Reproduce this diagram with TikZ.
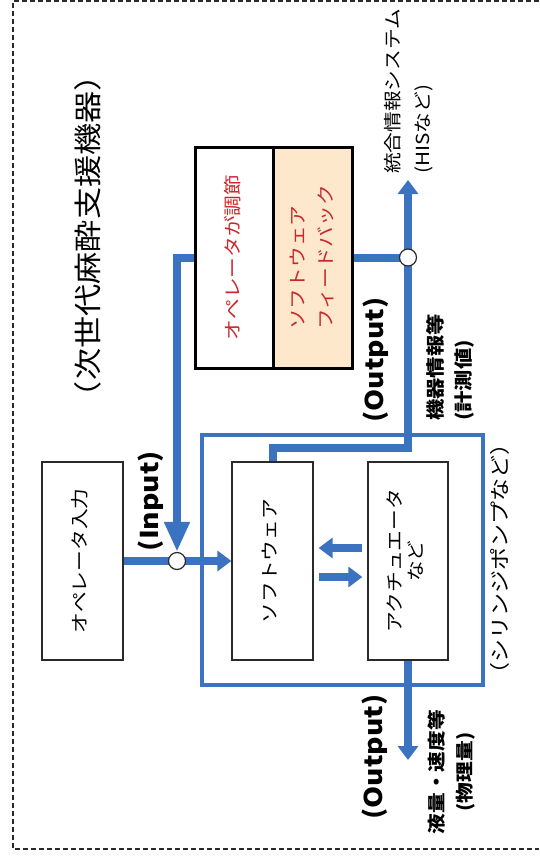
\documentclass[tikz,border=0pt]{standalone}
\usepackage{fontspec}
\newfontfamily\jp[FakeStretch=1.15]{Noto Sans CJK JP}
\usetikzlibrary{arrows.meta}
\pgfdeclarelayer{bg}
\pgfsetlayers{bg,main}
\definecolor{bl}{HTML}{3B73C0}
\definecolor{rd}{HTML}{C8282C}
\definecolor{beige}{HTML}{FDE8CC}
\definecolor{dk}{HTML}{2A2A2A}
\newcommand{\jfs}[2]{\jp\fontsize{#1}{#2}\selectfont}
\newcommand{\rtext}[2]{\rotatebox{90}{\begin{tabular}{@{}#1@{}}#2\end{tabular}}}
\begin{document}
\begin{tikzpicture}[x=1pt,y=-1pt,
  box/.style={draw=dk, line width=1.3pt, inner sep=0pt, font=\jfs{18}{21}},
  topbox/.style={draw=black, line width=3pt, inner sep=0pt, font=\jfs{18}{28}, text=rd},
  lbl/.style={inner sep=0pt},
  flow/.style={bl, line width=8pt},
  junc/.style={circle, draw=dk, fill=white, line width=1.2pt, minimum size=17pt, inner sep=0pt},
  tipS/.tip={Triangle[length=14pt,width=20pt]},
  tipB/.tip={Triangle[length=30pt,width=24pt]}]
\useasboundingbox (0,0) rectangle (539,856);
\draw[dk, line width=2pt, dash pattern=on 5pt off 3pt] (539,1) -- (13,1) -- (13,849) -- (539,849);

% title
\node[lbl, font=\jfs{28}{32}] (title) at (91,236) {\rtext{c}{（次世代麻酔支援機器）}};

% pump frame
\node[draw=bl, line width=4pt, minimum width=281pt, minimum height=250pt, inner sep=0pt] (pump) at (342.5,560) {};

% boxes
\node[box, minimum width=81pt, minimum height=198pt] (opin) at (82.5,561) {\rtext{c}{オペレータ入力}};
\node[box, minimum width=81pt, minimum height=198pt] (sw) at (272.5,561) {\rtext{c}{ソフトウェア}};
\node[box, minimum width=80pt, minimum height=198pt] (act) at (408,561) {\rtext{c}{アクチュエータ\\など}};
\node[topbox, minimum width=78pt, minimum height=221pt] (adj) at (234,257.5) {\rtext{c}{オペレータが調節}};
\node[topbox, fill=beige, minimum width=79pt, minimum height=221pt] (fb) at (312.5,257.5) {\rtext{l}{ソフトウェア\\フィードバック}};

% junctions
\node[junc] (cin) at (177,561) {};
\node[junc] (cout) at (408,257.5) {};
\coordinate (jn) at (408,448);
\coordinate (his) at (408,180);
\coordinate (phys) at (408,760);

\begin{pgfonlayer}{bg}
\draw[flow] (opin.east) -- (cin.center);
\draw[flow,-tipS] (cin.center) -- (sw.west);
\draw[flow,-tipB] (adj.west) -| (cin.north);
\draw[flow] (fb.east) -- (cout.center);
\draw[flow,-tipS] (sw.north) |- (jn) -- (his);
\draw[flow,-tipS] (act.south) -- (phys);
\draw[flow,-tipS] ([xshift=-5pt,yshift=13pt]act.west) -- ([xshift=5pt,yshift=13pt]sw.east);
\draw[flow,-tipS] ([xshift=5pt,yshift=-16pt]sw.east) -- ([xshift=-5pt,yshift=-16pt]act.west);
\end{pgfonlayer}

% labels
\node[lbl, font=\jfs{24.5}{28}\bfseries] (inlbl) at (152,501) {\rtext{c}{(Input)}};
\node[lbl, font=\jfs{24.5}{28}\bfseries] (outlbl1) at (377,360) {\rtext{c}{(Output)}};
\node[lbl, font=\jfs{24.5}{28}\bfseries] (outlbl2) at (376,757) {\rtext{c}{(Output)}};
\node[lbl, font=\jfs{18}{30}, anchor=south] (hislbl) at (408,174) {\rtext{l}{統合情報システム\\(HISなど)}};
\node[lbl, font=\jfs{18.5}{28}\bfseries, anchor=south] (devlbl) at (451,421) {\rtext{l}{機器情報等\\(計測値)}};
\node[lbl, font=\jfs{18}{28}\bfseries] (physlbl) at (452,772) {\rtext{c}{液量・速度等\\(物理量)}};
\node[lbl, font=\jfs{20}{24}] (pumplbl) at (503,559) {\rtext{c}{（シリンジポンプなど）}};
\end{tikzpicture}
\end{document}
